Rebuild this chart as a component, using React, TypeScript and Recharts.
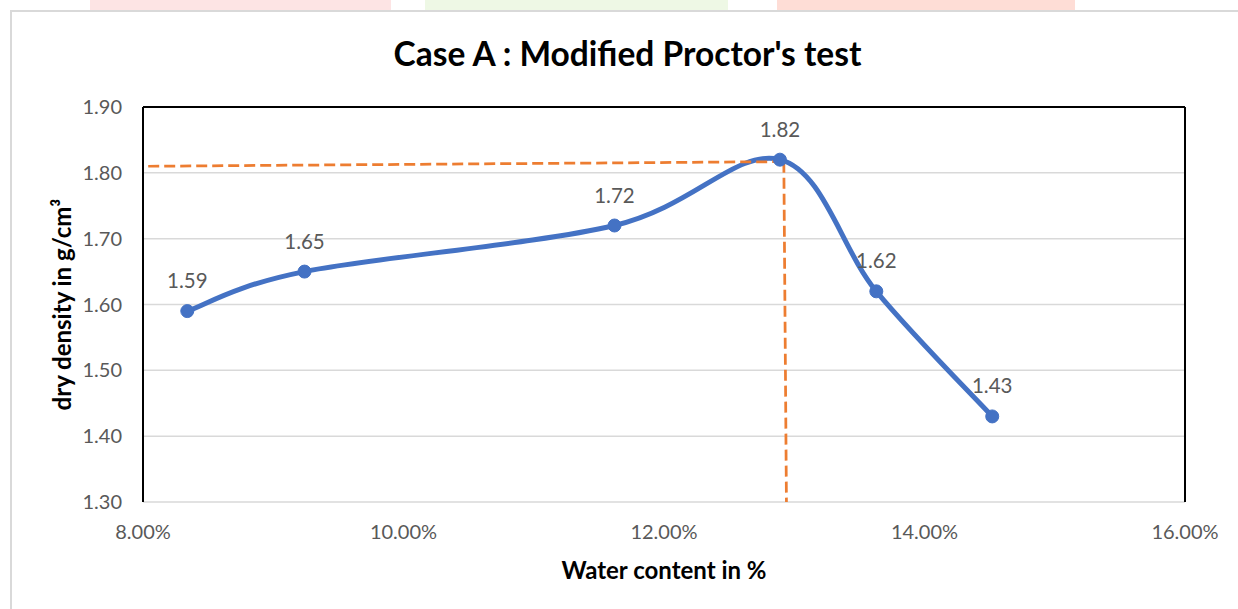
import React from 'react';
import { ComposedChart, Line, XAxis, YAxis, CartesianGrid, ReferenceLine, LabelList } from 'recharts';

const waterContent = [8.34, 9.24, 11.62, 12.89, 13.63, 14.52];
const dryDensity = [1.59, 1.65, 1.72, 1.82, 1.62, 1.43];
const xTicks = [8, 10, 12, 14, 16];
const yTicks = [1.3, 1.4, 1.5, 1.6, 1.7, 1.8, 1.9];
const mddWater = [8.04, 12.92];
const mddDensity = [1.81, 1.817];
const omcWater = [12.92, 12.94];
const omcDensity = [1.817, 1.3];

const curveData = waterContent.map((w, i) => ({ water: w, density: dryDensity[i] }));
const mddData = mddWater.map((w, i) => ({ water: w, density: mddDensity[i] }));
const omcData = omcWater.map((w, i) => ({ water: w, density: omcDensity[i] }));

// Excel-like smoothed line (Catmull-Rom style Bezier)
function excelSmooth(context: any) {
  let pts: number[][] = [];
  return {
    areaStart() {},
    areaEnd() {},
    lineStart() { pts = []; },
    point(x: number, y: number) { pts.push([+x, +y]); },
    lineEnd() {
      const n = pts.length;
      if (!n) return;
      context.moveTo(pts[0][0], pts[0][1]);
      for (let i = 0; i < n - 1; i++) {
        const p0 = pts[Math.max(i - 1, 0)];
        const p1 = pts[i];
        const p2 = pts[i + 1];
        const p3 = pts[Math.min(i + 2, n - 1)];
        const c1x = p1[0] + (p2[0] - p0[0]) / 6;
        const c1y = p1[1] + (p2[1] - p0[1]) / 6;
        const c2x = p2[0] - (p3[0] - p1[0]) / 6;
        const c2y = p2[1] - (p3[1] - p1[1]) / 6;
        context.bezierCurveTo(c1x, c1y, c2x, c2y, p2[0], p2[1]);
      }
    },
  };
}

const FONT = 'Lato, "Open Sans", sans-serif';

export default function App() {
  return (
    <div style={{ position: 'absolute', left: 0, top: 0, width: 1238, height: 609, background: '#fff', overflow: 'hidden', fontFamily: FONT }}>
      {/* faint page decoration strips above the chart */}
      <div style={{ position: 'absolute', left: 90, top: 0, width: 301, height: 10, background: '#FDE4E4' }} />
      <div style={{ position: 'absolute', left: 425, top: 0, width: 303, height: 10, background: '#EEF8E5' }} />
      <div style={{ position: 'absolute', left: 777, top: 0, width: 298, height: 10, background: '#FEDDD6' }} />
      {/* chart area border */}
      <div style={{ position: 'absolute', left: 10, top: 10, width: 1260, height: 640, border: '2px solid #D9D9D9', boxSizing: 'border-box' }} />
      <div style={{ position: 'absolute', left: 0, top: 33, width: 1255, textAlign: 'center', fontSize: 33.5, fontWeight: 700, color: '#000', fontFamily: FONT }}>
        Case A : Modified Proctor's test
      </div>
      <div style={{ position: 'absolute', left: 0, top: 0 }}>
        <ComposedChart width={1238} height={609} margin={{ top: 107, right: 53, left: 0, bottom: 0 }}>
          <CartesianGrid vertical={false} stroke="#D9D9D9" strokeWidth={1.5} />
          <XAxis
            dataKey="water"
            type="number"
            domain={[8, 16]}
            ticks={xTicks}
            allowDataOverflow
            tickFormatter={(v: number) => v.toFixed(2) + '%'}
            axisLine={false}
            tickLine={false}
            tickSize={0}
            tickMargin={23}
            height={107}
            tick={{ fill: '#595959', fontSize: 20, fontFamily: FONT }}
            label={{ value: 'Water content in %', position: 'insideBottom', offset: 30, style: { fill: '#000', fontSize: 24, fontWeight: 700, fontFamily: FONT } }}
          />
          <YAxis
            type="number"
            domain={[1.3, 1.9]}
            ticks={yTicks}
            allowDataOverflow
            tickFormatter={(v: number) => v.toFixed(2)}
            axisLine={{ stroke: '#000', strokeWidth: 2 }}
            tickLine={false}
            tickSize={0}
            tickMargin={21}
            width={143}
            tick={{ fill: '#595959', fontSize: 20, fontFamily: FONT }}
            label={{ value: 'dry density in g/cm³', angle: -90, position: 'insideLeft', offset: 62, style: { textAnchor: 'middle', fill: '#000', fontSize: 24, fontWeight: 700, fontFamily: FONT } }}
          />
          <ReferenceLine y={1.9} stroke="#000" strokeWidth={2} />
          <ReferenceLine x={16} stroke="#000" strokeWidth={2} />
          <Line
            data={curveData}
            dataKey="density"
            type={excelSmooth as any}
            stroke="#4472C4"
            strokeWidth={5}
            dot={{ r: 6.5, fill: '#4472C4', stroke: '#4472C4', strokeWidth: 1 }}
            activeDot={false}
            isAnimationActive={false}
          >
            <LabelList
              dataKey="density"
              position="top"
              offset={23}
              formatter={(v: any) => Number(v).toFixed(2)}
              style={{ fill: '#595959', fontSize: 20.5, fontFamily: FONT }}
            />
          </Line>
          <Line data={mddData} dataKey="density" type="linear" stroke="#ED7D31" strokeWidth={2.75} strokeDasharray="11 5" dot={false} activeDot={false} isAnimationActive={false} />
          <Line data={omcData} dataKey="density" type="linear" stroke="#ED7D31" strokeWidth={2.75} strokeDasharray="11 5" dot={false} activeDot={false} isAnimationActive={false} />
        </ComposedChart>
      </div>
    </div>
  );
}
